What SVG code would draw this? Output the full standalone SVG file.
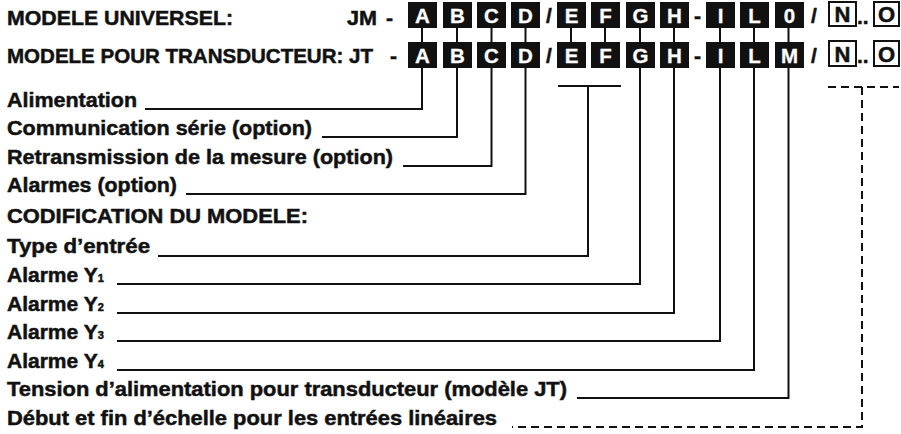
<svg xmlns="http://www.w3.org/2000/svg" width="901" height="434" viewBox="0 0 901 434">
<style>
.t{font-family:"Liberation Sans",Arial,sans-serif;font-weight:bold;font-size:21px;fill:#111;stroke:#111;stroke-width:0.5}
.bx{fill:#111}
.bl{font-family:"Liberation Sans",Arial,sans-serif;font-weight:bold;font-size:20.5px;fill:#fff;stroke:#fff;stroke-width:0.3;text-anchor:middle}
.ob{fill:#fff;stroke:#111;stroke-width:2}
.ol{font-family:"Liberation Sans",Arial,sans-serif;font-weight:bold;font-size:22px;fill:#111;stroke:#111;stroke-width:0.5;text-anchor:middle}
.c{fill:none;stroke:#111;stroke-width:2}
.d{fill:none;stroke:#111;stroke-width:2;stroke-dasharray:8 5}
.sub{font-size:11px}
</style>
<rect width="901" height="434" fill="#fff"/>
<g id="header">
<text class="t" x="7" y="25" textLength="226" lengthAdjust="spacingAndGlyphs">MODELE UNIVERSEL:</text>
<text class="t" x="347" y="25" textLength="30" lengthAdjust="spacingAndGlyphs">JM</text>
<text class="t" x="386" y="25">-</text>
<text class="t" x="7" y="63" textLength="366" lengthAdjust="spacingAndGlyphs">MODELE POUR TRANSDUCTEUR: JT</text>
<text class="t" x="390" y="63">-</text>
</g>
<g id="codes-row1">
<rect class="bx" x="408" y="2" width="29" height="26"/><text class="bl" x="422.5" y="23">A</text>
<rect class="bx" x="443" y="2" width="29" height="26"/><text class="bl" x="457.5" y="23">B</text>
<rect class="bx" x="477" y="2" width="29" height="26"/><text class="bl" x="491.5" y="23">C</text>
<rect class="bx" x="511" y="2" width="29" height="26"/><text class="bl" x="525.5" y="23">D</text>
<text class="t" x="546" y="23">/</text>
<rect class="bx" x="557" y="2" width="29" height="26"/><text class="bl" x="571.5" y="23">E</text>
<rect class="bx" x="591" y="2" width="29" height="26"/><text class="bl" x="605.5" y="23">F</text>
<rect class="bx" x="626" y="2" width="29" height="26"/><text class="bl" x="640.5" y="23">G</text>
<rect class="bx" x="660" y="2" width="29" height="26"/><text class="bl" x="674.5" y="23">H</text>
<text class="t" x="694" y="23">-</text>
<rect class="bx" x="706" y="2" width="29" height="26"/><text class="bl" x="720.5" y="23">I</text>
<rect class="bx" x="740" y="2" width="29" height="26"/><text class="bl" x="754.5" y="23">L</text>
<rect class="bx" x="775" y="2" width="29" height="26"/><text class="bl" x="789.5" y="23">0</text>
<text class="t" x="811" y="23">/</text>
<rect class="ob" x="829" y="2" width="27" height="24"/><text class="ol" x="842.5" y="22">N</text>
<text class="t" x="857" y="24">..</text>
<rect class="ob" x="874" y="2" width="25" height="24"/><text class="ol" x="886.5" y="22">O</text>
</g>
<g id="codes-row2">
<rect class="bx" x="408" y="42" width="29" height="26"/><text class="bl" x="422.5" y="63">A</text>
<rect class="bx" x="443" y="42" width="29" height="26"/><text class="bl" x="457.5" y="63">B</text>
<rect class="bx" x="477" y="42" width="29" height="26"/><text class="bl" x="491.5" y="63">C</text>
<rect class="bx" x="511" y="42" width="29" height="26"/><text class="bl" x="525.5" y="63">D</text>
<text class="t" x="546" y="63">/</text>
<rect class="bx" x="557" y="42" width="29" height="26"/><text class="bl" x="571.5" y="63">E</text>
<rect class="bx" x="591" y="42" width="29" height="26"/><text class="bl" x="605.5" y="63">F</text>
<rect class="bx" x="626" y="42" width="29" height="26"/><text class="bl" x="640.5" y="63">G</text>
<rect class="bx" x="660" y="42" width="29" height="26"/><text class="bl" x="674.5" y="63">H</text>
<text class="t" x="694" y="63">-</text>
<rect class="bx" x="706" y="42" width="29" height="26"/><text class="bl" x="720.5" y="63">I</text>
<rect class="bx" x="740" y="42" width="29" height="26"/><text class="bl" x="754.5" y="63">L</text>
<rect class="bx" x="775" y="42" width="29" height="26"/><text class="bl" x="789.5" y="63">M</text>
<text class="t" x="811" y="63">/</text>
<rect class="ob" x="829" y="41" width="27" height="25"/><text class="ol" x="842.5" y="62">N</text>
<text class="t" x="857" y="63">..</text>
<rect class="ob" x="874" y="41" width="25" height="25"/><text class="ol" x="886.5" y="62">O</text>
</g>
<g id="labels">
<text class="t" x="7" y="107" textLength="130" lengthAdjust="spacingAndGlyphs">Alimentation</text>
<text class="t" x="7" y="135" textLength="305" lengthAdjust="spacingAndGlyphs">Communication série (option)</text>
<text class="t" x="7" y="164" textLength="386" lengthAdjust="spacingAndGlyphs">Retransmission de la mesure (option)</text>
<text class="t" x="7" y="192" textLength="170" lengthAdjust="spacingAndGlyphs">Alarmes (option)</text>
<text class="t" x="7" y="223" textLength="301" lengthAdjust="spacingAndGlyphs">CODIFICATION DU MODELE:</text>
<text class="t" x="7" y="253" textLength="143" lengthAdjust="spacingAndGlyphs">Type d’entrée</text>
<text class="t" x="7" y="282">Alarme Y<tspan class="sub">1</tspan></text>
<text class="t" x="7" y="311">Alarme Y<tspan class="sub">2</tspan></text>
<text class="t" x="7" y="339">Alarme Y<tspan class="sub">3</tspan></text>
<text class="t" x="7" y="368">Alarme Y<tspan class="sub">4</tspan></text>
<text class="t" x="7" y="396" textLength="560" lengthAdjust="spacingAndGlyphs">Tension d’alimentation pour transducteur (modèle JT)</text>
<text class="t" x="7" y="425" textLength="490" lengthAdjust="spacingAndGlyphs">Début et fin d’échelle pour les entrées linéaires</text>
</g>
<g id="connectors">
<path class="c" d="M422,28V42M457,28V42M491.5,28V42M525.5,28V42M571,28V42M605,28V42M640,28V42M674,28V42M720,28V42M754,28V42M788.5,28V42"/>
<path class="c" d="M422,68V109H145"/>
<path class="c" d="M457,68V137H322"/>
<path class="c" d="M491.5,68V166H403"/>
<path class="c" d="M525.5,68V194H186"/>
<path class="c" d="M558,86H621M588,86V256H158"/>
<path class="c" d="M640,68V284H117"/>
<path class="c" d="M674,68V313H117"/>
<path class="c" d="M720,68V341H117"/>
<path class="c" d="M754,68V370H117"/>
<path class="c" d="M788.5,68V398H577"/>
<path class="d" d="M828,87H899"/>
<path class="d" d="M862,87V427H512"/>
</g>
</svg>
